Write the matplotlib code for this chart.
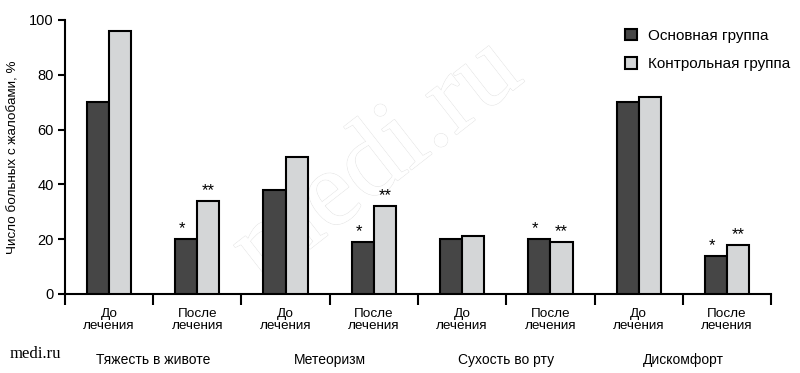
import numpy as np
import matplotlib.pyplot as plt
import matplotlib.patheffects as pe

plt.rcParams['font.family'] = ['Liberation Sans', 'DejaVu Sans']

# данные
symptoms = ["Тяжесть в животе", "Метеоризм", "Сухость во рту", "Дискомфорт"]
stages = ["До\nлечения", "После\nлечения"]
main_group = [70, 20, 38, 19, 20, 20, 70, 14]
control_group = [96, 34, 50, 32, 21, 19, 72, 18]
marks_main = ["", "*", "", "*", "", "*", "", "*"]
marks_control = ["", "**", "", "**", "", "**", "", "**"]
legend_labels = ["Основная группа", "Контрольная группа"]

DARK = "#464646"
LIGHT = "#d4d6d7"

fig = plt.figure(figsize=(8, 3.73), dpi=100)
ax = fig.add_axes([0.081, 0.2118, 0.883, 0.7346])

n = len(main_group)
x = np.arange(n) + 0.5
w = 0.25

ax.bar(x - w / 2, main_group, w, color=DARK, edgecolor="black", linewidth=1.5,
       label=legend_labels[0], zorder=3)
ax.bar(x + w / 2, control_group, w, color=LIGHT, edgecolor="black", linewidth=1.5,
       label=legend_labels[1], zorder=3)

for xi, v, m in zip(x - w / 2, main_group, marks_main):
    if m:
        ax.annotate(m, (xi, v), xytext=(-3, 2), textcoords="offset points",
                    ha="center", va="bottom", fontsize=12)
for xi, v, m in zip(x + w / 2, control_group, marks_control):
    if m:
        ax.annotate(m, (xi, v), xytext=(0, 2), textcoords="offset points",
                    ha="center", va="bottom", fontsize=12)

ax.set_xlim(0, n)
ax.set_ylim(0, 100)
ax.set_yticks(range(0, 101, 20))
ax.set_xticks(range(0, n + 1))
ax.set_xticklabels([])
ax.tick_params(axis="x", direction="out", length=8, width=1.5)
ax.tick_params(axis="y", direction="out", length=5, width=1.5, labelsize=10.5, pad=3)

for s in ["top", "right"]:
    ax.spines[s].set_visible(False)
for s in ["left", "bottom"]:
    ax.spines[s].set_linewidth(1.5)

for i, xi in enumerate(x):
    ax.text(xi, -5, stages[i % 2], ha="center", va="top", fontsize=9.7,
            linespacing=1.05, clip_on=False)

for j, name in enumerate(symptoms):
    ax.text(2 * j + 1, -21.5, name, ha="center", va="top", fontsize=10, clip_on=False)

ax.set_ylabel("Число больных с жалобами, %", fontsize=9.7, labelpad=7)

ax.legend(loc="upper left", bbox_to_anchor=(0.785, 0.99), frameon=False, fontsize=11,
          handlelength=0.75, handleheight=0.75, handletextpad=0.7, labelspacing=0.95,
          borderaxespad=0)

# водяной знак
ax.text(3.55, 48, "medi.ru", family="Liberation Serif", fontsize=78, rotation=38,
        color="white", ha="center", va="center", zorder=1,
        path_effects=[pe.withStroke(linewidth=1, foreground="#e6e6e6"), pe.Normal()])

fig.text(0.012, 0.04, "medi.ru", family="Liberation Serif", fontsize=12)

fig.savefig("out.png", dpi=100)
